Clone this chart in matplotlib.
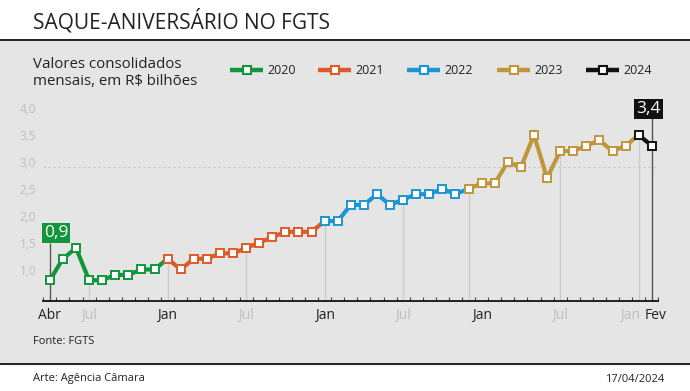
import matplotlib
matplotlib.use("Agg")
import matplotlib.pyplot as plt
from matplotlib.patches import Rectangle
import numpy as np

plt.rcParams["font.family"] = ["Open Sans", "DejaVu Sans"]

# valores mensais consolidados, R$ bilhões (abr/2020 a fev/2024)
v2020 = [0.9, 1.3, 1.5, 0.9, 0.9, 1.0, 1.0, 1.1, 1.1]
v2021 = [1.3, 1.1, 1.3, 1.3, 1.4, 1.4, 1.5, 1.6, 1.7, 1.8, 1.8, 1.8]
v2022 = [2.0, 2.0, 2.3, 2.3, 2.5, 2.3, 2.4, 2.5, 2.5, 2.6, 2.5]
v2023 = [2.6, 2.7, 2.7, 3.1, 3.0, 3.6, 2.8, 3.3, 3.3, 3.4, 3.5, 3.3, 3.4]
v2024 = [3.6, 3.4]
years = ["2020", "2021", "2022", "2023", "2024"]
colors = ["#12963c", "#e05a26", "#1b96d2", "#c0963c", "#111111"]

xlabels = ["Abr", "Jul", "Jan", "Jul", "Jan", "Jul", "Jan", "Jul", "Jan", "Fev"]
xlabel_idx = [0, 3, 9, 15, 21, 27, 33, 39, 45, 46]
xlabel_dark = [True, False, True, False, True, False, True, False, False, True]
grid_idx = [3, 9, 15, 21, 27, 32, 39, 45]
yticks = [1.0, 1.5, 2.0, 2.5, 3.0, 3.5, 4.0]

series = [v2020, v2021, v2022, v2023, v2024]
allv = np.concatenate(series)
n = len(allv)

W, H = 690, 391
fig = plt.figure(figsize=(W / 100, H / 100), dpi=100)

# fundo / moldura em pixels
bg = fig.add_axes([0, 0, 1, 1], zorder=0)
bg.set_xlim(0, W)
bg.set_ylim(H, 0)
bg.axis("off")
bg.add_patch(Rectangle((0, 40), W, 324, color="#e5e5e5", zorder=0))
bg.plot([0, W], [40, 40], color="#222222", lw=1.4)
bg.plot([0, W], [364, 364], color="#222222", lw=1.4)
bg.text(33, 21, "SAQUE-ANIVERSÁRIO NO FGTS", fontsize=15, color="#222222",
        va="center", ha="left")
bg.text(33, 73, "Valores consolidados\nmensais, em R$ bilhões", fontsize=10.8,
        color="#222222", va="center", ha="left", linespacing=1.2)
bg.text(33, 342, "Fonte: FGTS", fontsize=8, color="#222222", va="center")
bg.text(33, 379, "Arte: Agência Câmara", fontsize=8, color="#222222", va="center")
bg.text(664, 379, "17/04/2024", fontsize=8, color="#222222", va="center", ha="right")

leg_x = [230, 318, 407, 497, 586]
for x0, yr, c in zip(leg_x, years, colors):
    bg.plot([x0, x0 + 33], [70, 70], color=c, lw=3.2, solid_capstyle="butt")
    bg.plot([x0 + 16.5], [70], marker="s", ms=5.4, mfc="white", mec=c, mew=1.5)
    bg.text(x0 + 37, 70, yr, fontsize=9, color="#222222", va="center", ha="left")

# eixo principal
left, right, bottom, top = 43.3, 658.3, 300.7, 100
ax = fig.add_axes([left / W, 1 - bottom / H, (right - left) / W, (bottom - top) / H],
                  zorder=1)
ax.patch.set_alpha(0)
ymin, ymax = 0.52, 4.25
ax.set_xlim(-0.5, n - 0.5)
ax.set_ylim(ymin, ymax)
for s in ["top", "right", "left"]:
    ax.spines[s].set_visible(False)
ax.spines["bottom"].set_color("#111111")
ax.spines["bottom"].set_linewidth(1.3)
ax.set_yticks([])
ax.set_xticks(np.arange(-0.5, n, 1.0))
ax.set_xticklabels([])
ax.tick_params(axis="x", direction="in", length=3, width=0.8, color="#444444")

ax.axhline(3.0, color="#c4c4c4", lw=0.8, ls=(0, (2, 2.5)), zorder=1)
for yt in yticks:
    ax.annotate(f"{yt:.1f}".replace(".", ","), xy=(0, yt), xycoords=("axes fraction", "data"),
                xytext=(-5, 2.5), textcoords="offset points", ha="right", va="center",
                fontsize=8.5, color="#bdbdbd")

ax.vlines(grid_idx, ymin, allv[grid_idx], color="#cccccc", lw=1, zorder=1)

start = 0
for vals, c in zip(series, colors):
    xs = np.arange(start, start + len(vals))
    xl = np.arange(start, min(start + len(vals) + 1, n))
    ax.plot(xl, allv[xl], color=c, lw=3.0, zorder=3, solid_joinstyle="miter")
    ax.plot(xs, vals, ls="none", marker="s", ms=5.2, mfc="white", mec=c, mew=1.4,
            zorder=4)
    start += len(vals)

for i, lab, dark in zip(xlabel_idx, xlabels, xlabel_dark):
    ha = "center"
    x = i
    if lab == "Jan" and i == 45:
        ha, x = "right", 45.1
    if lab == "Fev":
        ha, x = "left", 45.45
    ax.text(x, -0.076, lab, transform=ax.get_xaxis_transform(), ha=ha, va="center",
            fontsize=10, color="#222222" if dark else "#bdbdbd")

# destaques do primeiro e do último valor
first, last = allv[0], allv[-1]
ax.vlines([0, n - 1], ymin, [1.6, 3.93], color="#555555", lw=1, zorder=2)
ax.text(0.47, 1.78, f"{first:.1f}".replace(".", ","), ha="center", va="center",
        fontsize=12.5, color="white", zorder=5,
        bbox=dict(boxstyle="square,pad=0.12", fc=colors[0], ec="none"))
ax.text(45.74, 4.08, f"{last:.1f}".replace(".", ","), ha="center", va="center",
        fontsize=12.5, color="white", zorder=5,
        bbox=dict(boxstyle="square,pad=0.12", fc=colors[4], ec="none"))

fig.savefig("out.png", dpi=100)
